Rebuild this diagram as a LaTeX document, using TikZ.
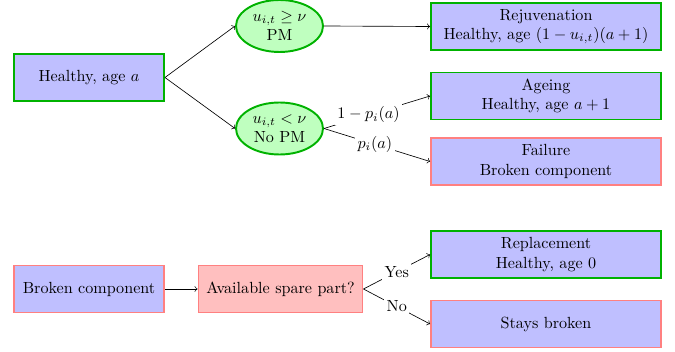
\documentclass[tikz,border=0pt]{standalone}
\usepackage{amssymb}
\usetikzlibrary{shapes.geometric}
\begin{document}
\begin{tikzpicture}[x=0.62pt,y=-0.62pt,
  box/.style={rectangle,draw,very thick,fill=blue!25,align=center,inner sep=2pt},
  gbox/.style={box,draw=green!70!black},
  rbox/.style={box,draw=red!50},
  wide/.style={minimum width=230*0.62pt,minimum height=47*0.62pt},
  narrow/.style={minimum width=150*0.62pt,minimum height=47*0.62pt},
  choice/.style={ellipse,draw=green!70!black,very thick,fill=green!25,align=center,
    minimum width=87*0.62pt,minimum height=52*0.62pt,inner sep=1pt},
  lab/.style={fill=white,inner sep=1.5pt},
  arr/.style={->,black}]
\useasboundingbox (0,0) rectangle (675,352);
\node[gbox,narrow] (h) at (89,77.5) {Healthy, age $a$};
\node[choice] (pm) at (279.5,26) {$u_{i,t}\geq\nu$\\PM};
\node[choice] (npm) at (279.5,128.5) {$u_{i,t}<\nu$\\No PM};
\node[gbox,wide] (rej) at (546,26.5) {Rejuvenation\\Healthy, age $(1-u_{i,t})(a+1)$};
\node[gbox,wide] (age) at (546,96) {Ageing\\Healthy, age $a+1$};
\node[rbox,wide] (fail) at (546,161.5) {Failure\\Broken component};
\node[rbox,narrow] (bc) at (89,289) {Broken component};
\node[rbox,fill=red!25,minimum width=164*0.62pt,minimum height=47*0.62pt] (sp) at (280.5,289) {Available spare part?};
\node[gbox,wide] (rep) at (546,254.5) {Replacement\\Healthy, age 0};
\node[rbox,wide] (sb) at (546,324) {Stays broken};
\draw[arr] (h.east) -- (pm.west);
\draw[arr] (h.east) -- (npm.west);
\draw[arr] (pm.east) -- (rej.west);
\draw[arr] (npm.east) -- node[lab,pos=0.42] {$1-p_i(a)$} (age.west);
\draw[arr] (npm.east) -- node[lab,pos=0.48] {$p_i(a)$} (fail.west);
\draw[arr] (bc.east) -- (sp.west);
\draw[arr] (sp.east) -- node[lab] {Yes} (rep.west);
\draw[arr] (sp.east) -- node[lab] {No} (sb.west);
\end{tikzpicture}
\end{document}
